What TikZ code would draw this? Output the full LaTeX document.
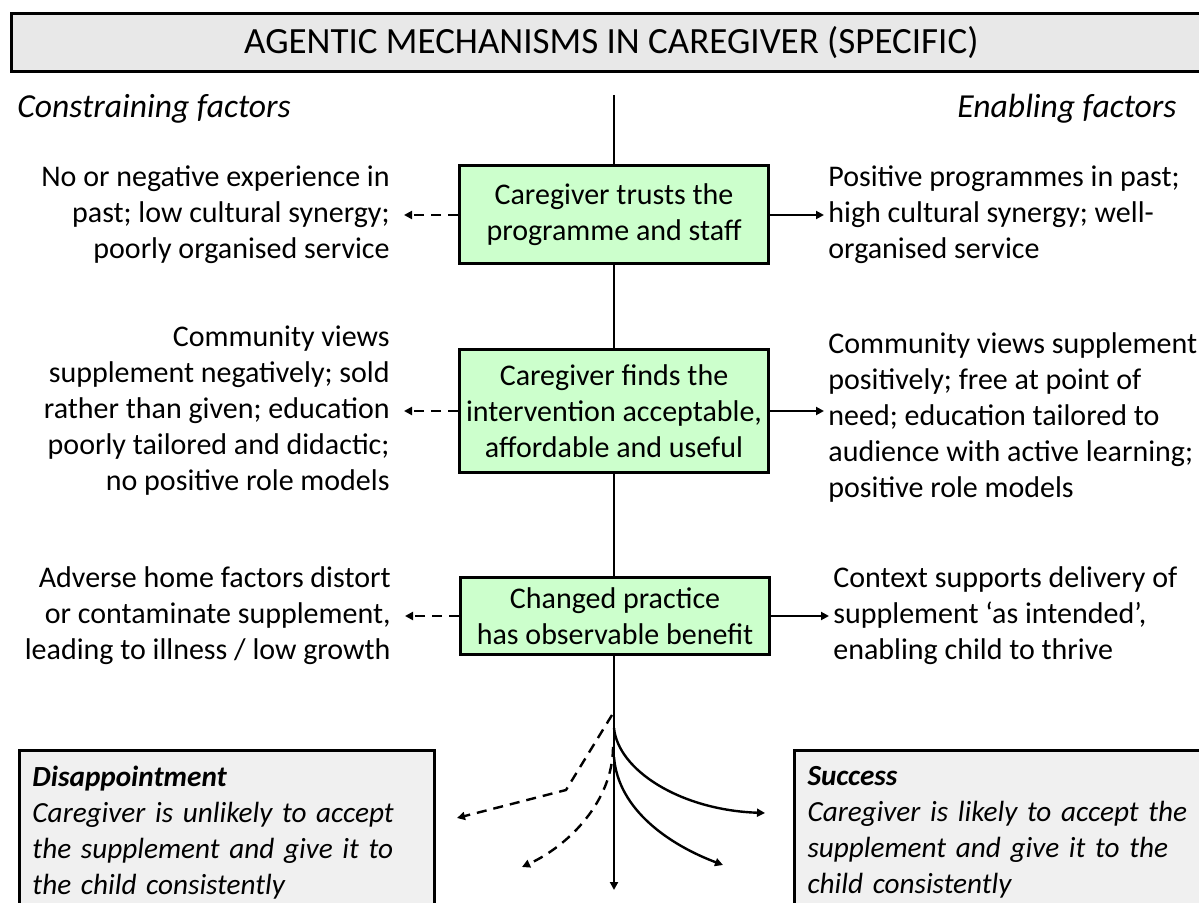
\documentclass[tikz,border=0pt]{standalone}
\usepackage{fontspec}
\setmainfont{Carlito}
\usepackage{xcolor}
\definecolor{TrustGreen}{HTML}{CCFFCC}
\definecolor{TitleGrey}{HTML}{E8E8E8}
\definecolor{OutcomeGrey}{HTML}{F0F0F0}
\usetikzlibrary{positioning,arrows.meta}

\begin{document}
\begin{tikzpicture}[x=0.5pt, y=-0.5pt, node distance=27pt,
        block/.style={rectangle, draw, line width=1.5pt, fill=TrustGreen, align=center, minimum width=154.5pt, inner sep=0pt, font=\fontsize{15}{18}\selectfont},
        constraint/.style={align=right, inner xsep=7pt, inner ysep=0pt, font=\fontsize{15}{18}\selectfont},
        enabler/.style={align=left, inner xsep=2pt, inner ysep=0pt, font=\fontsize{15}{18}\selectfont},
        heading/.style={inner sep=0pt, font=\fontsize{16.8}{20}\selectfont\itshape},
        outcome/.style={rectangle, draw, line width=1.5pt, fill=OutcomeGrey, anchor=north west, align=left, inner xsep=6.5pt, inner ysep=8pt, font=\fontsize{14.6}{18}\selectfont\itshape},
        arrow/.style={-{Triangle[length=4pt,width=4pt]}, line width=1pt},
        dasharrow/.style={arrow, dash pattern=on 5pt off 3.5pt}]
    \useasboundingbox (0,0) rectangle (1199,903);

    \node[rectangle, draw, line width=1.3pt, fill=TitleGrey, anchor=north west, minimum width=600pt, minimum height=29pt, font=\fontsize{18.5}{22}\selectfont] (title) at (10,12) {AGENTIC MECHANISMS IN CAREGIVER (SPECIFIC)};
    \node[heading, anchor=base west] (constr) at (17,118) {Constraining factors};
    \node[heading, anchor=base east] (enab) at (1177,118) {Enabling factors};

    % mechanisms along the spine
    \coordinate (top) at (614,95);
    \coordinate (bot) at (614,890);
    \node[block, minimum height=49pt] (trust) at (614,215) {Caregiver trusts the\\programme and staff};
    \node[block, minimum height=61pt] (accept) at (614,411) {Caregiver finds the\\intervention acceptable,\\affordable and useful};
    \node[block, minimum height=38.5pt] (benefit) at (615,616) {Changed practice\\has observable benefit};

    \draw[line width=1.3pt] (top) -- (trust);
    \draw[line width=1.3pt] (trust) -- (accept);
    \draw[line width=1.3pt] (accept) -- (benefit.north -| accept);
    \draw[arrow, line width=1.3pt] (benefit.south -| bot) -- (bot);

    % factors either side
    \node[constraint, left=of trust] (c1) {No or negative experience in\\past; low cultural synergy;\\poorly organised service};
    \node[enabler, right=of trust] (e1) {Positive programmes in past;\\high cultural synergy; well-\\organised service};
    \node[constraint, left=of accept] (c2) {Community views\\supplement negatively; sold\\rather than given; education\\poorly tailored and didactic;\\no positive role models};
    \node[enabler, right=of accept, yshift=-3.5pt] (e2) {Community views supplement\\positively; free at point of\\need; education tailored to\\audience with active learning;\\positive role models};
    \node[constraint, left=of benefit] (c3) {Adverse home factors distort\\or contaminate supplement,\\leading to illness / low growth};
    \node[enabler, right=of benefit, xshift=2pt] (e3) {Context supports delivery of\\supplement ‘as intended’,\\enabling child to thrive};

    \draw[dasharrow] (trust.west) -- (trust.west -| c1.east);
    \draw[arrow] (trust.east) -- (trust.east -| e1.west);
    \draw[dasharrow] (accept.west) -- (accept.west -| c2.east);
    \draw[arrow] (accept.east) -- (accept.east -| e2.west);
    \draw[dasharrow] (benefit.west) -- (benefit.west -| c3.east);
    \draw[arrow] (benefit.east) -- (benefit.east -| e3.west);

    % outcomes
    \node[outcome, text width=194.5pt] (disap) at (18,749) {\textbf{Disappointment}\\Caregiver is unlikely to accept\\the supplement and give it to\\the child consistently};
    \node[outcome, text width=210pt] (success) at (793,749) {\textbf{Success}\\Caregiver is likely to accept the\\supplement and give it to the\\child consistently};

    \coordinate (split1) at (612,715);
    \coordinate (split2) at (614,728);
    \coordinate (split3) at (613,747);
    \coordinate (split4) at (614,757);
    \coordinate (dfar) at (457,818);
    \coordinate (dnear) at (522,867);
    \coordinate (sfar) at (765,813);
    \coordinate (snear) at (723,865);
    \draw[dasharrow, line width=1.2pt] (split1) -- ++(-46,75) -- (dfar);
    \draw[dasharrow, line width=1.2pt] (split3) .. controls (613,800) and (570,845) .. (dnear);
    \draw[arrow, line width=1.2pt] (split2) .. controls (618,770) and (680,810) .. (sfar);
    \draw[arrow, line width=1.2pt] (split4) .. controls (618,810) and (670,845) .. (snear);
\end{tikzpicture}
\end{document}
